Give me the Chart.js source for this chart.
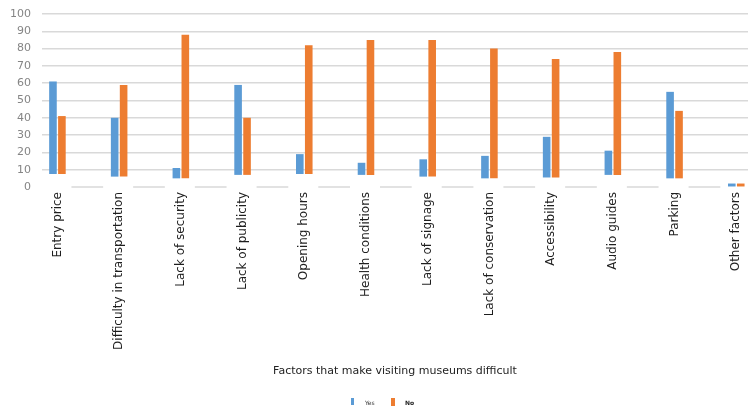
<!DOCTYPE html>
<html>
<head>
<meta charset="utf-8">
<script src="https://cdn.jsdelivr.net/npm/chart.js@4/dist/chart.umd.min.js"></script>
<style>
  html, body { margin: 0; padding: 0; background: #ffffff; overflow: hidden; }
  #wrap { width: 748px; height: 416px; position: relative; }
</style>
</head>
<body>
<div id="wrap"><canvas id="chart" width="748" height="416"></canvas></div>
<script>
// Survey answers per factor (percent)
const categories = [
  'Entry price', 'Difficulty in transportation', 'Lack of security', 'Lack of publicity',
  'Opening hours', 'Health conditions', 'Lack of signage', 'Lack of conservation',
  'Accessibility', 'Audio guides', 'Parking', 'Other factors'
];
const yesValues = [61, 40, 11, 59, 19, 14, 16, 18, 29, 21, 55, 2];
const noValues  = [41, 59, 88, 40, 82, 85, 85, 80, 74, 78, 44, 2];
// Floor level each column pair stands on (perspective floor of the column chart)
const columnFloor = [7.5, 6, 5, 7, 7.5, 7, 6, 5, 5.5, 7, 5, 0.3];
const yTicks = [0, 10, 20, 30, 40, 50, 60, 70, 80, 90, 100];
const seriesNames = ['Yes', 'No'];
const seriesColors = ['#5B9BD5', '#ED7D31'];
const axisTitle = 'Factors that make visiting museums difficult';

const FONT = 'DejaVu Sans';

const toPoints = vals => vals.map((v, i) => ({ x: i, y: [columnFloor[i], v] }));

// Broken floor line at value 0, interrupted under each category label
const floorLinePlugin = {
  id: 'floorLine',
  beforeDatasetsDraw(chart) {
    const xs = chart.scales.x, ys = chart.scales.y, ctx = chart.ctx;
    const y0 = ys.getPixelForValue(0);
    ctx.save();
    ctx.strokeStyle = '#d9d9d9';
    ctx.lineWidth = 1.5;
    for (let i = 0; i < categories.length; i++) {
      const a = xs.getPixelForValue(i) + 14;
      const b = Math.min(xs.getPixelForValue(i + 1) - 16, chart.width);
      if (b <= a) continue;
      ctx.beginPath();
      ctx.moveTo(a, y0);
      ctx.lineTo(b, y0);
      ctx.stroke();
    }
    ctx.restore();
  }
};

// Small legend under the axis title
const legendPlugin = {
  id: 'smallLegend',
  afterDraw(chart) {
    const ctx = chart.ctx;
    const cx = chart.width / 2;
    ctx.save();
    ctx.textBaseline = 'middle';
    ctx.fillStyle = seriesColors[0];
    ctx.fillRect(cx - 23, 398, 3, 7);
    ctx.fillStyle = '#333';
    ctx.font = '6px "' + FONT + '"';
    ctx.fillText(seriesNames[0], cx - 9, 403);
    ctx.fillStyle = seriesColors[1];
    ctx.fillRect(cx + 17, 398, 4, 8);
    ctx.fillStyle = '#222';
    ctx.font = 'bold 6px "' + FONT + '"';
    ctx.fillText(seriesNames[1], cx + 31, 403);
    ctx.restore();
  }
};

new Chart(document.getElementById('chart'), {
  type: 'bar',
  data: {
    datasets: [
      { label: seriesNames[0], data: toPoints(yesValues), backgroundColor: seriesColors[0] },
      { label: seriesNames[1], data: toPoints(noValues), backgroundColor: seriesColors[1] }
    ]
  },
  options: {
    responsive: false,
    animation: false,
    maintainAspectRatio: false,
    categoryPercentage: 0.29,
    barPercentage: 0.85,
    layout: { padding: { top: 14, right: 0, bottom: 30, left: 0 } },
    plugins: {
      legend: { display: false },
      tooltip: { enabled: false }
    },
    scales: {
      x: {
        type: 'linear',
        offset: false,
        min: -0.25,
        max: 11.19,
        afterBuildTicks(scale) {
          scale.ticks = categories.map((_, i) => ({ value: i }));
        },
        afterFit(scale) {
          scale.height = 199;
          scale.paddingLeft = 0;
          scale.paddingRight = 0;
        },
        grid: { display: false },
        border: { display: false },
        ticks: {
          autoSkip: false,
          minRotation: 90,
          maxRotation: 90,
          padding: -3,
          color: '#1e1e1e',
          font: { family: FONT, size: 12 },
          callback: v => categories[v]
        },
        title: {
          display: true,
          text: axisTitle,
          color: '#222',
          font: { family: FONT, size: 11 },
          padding: { top: 0, bottom: 8 }
        }
      },
      y: {
        min: 0,
        max: 100,
        afterBuildTicks(scale) {
          scale.ticks = yTicks.map(v => ({ value: v }));
        },
        afterFit(scale) {
          scale.width = 42;
          scale.paddingTop = 0;
          scale.paddingBottom = 0;
        },
        border: { display: false },
        grid: {
          drawTicks: false,
          lineWidth: 1.5,
          color: ctx => (ctx.tick && ctx.tick.value === 0) ? 'rgba(0,0,0,0)' : '#d9d9d9'
        },
        ticks: {
          padding: 11,
          color: '#858585',
          font: { family: FONT, size: 11 }
        }
      }
    }
  },
  plugins: [floorLinePlugin, legendPlugin]
});
</script>
</body>
</html>
